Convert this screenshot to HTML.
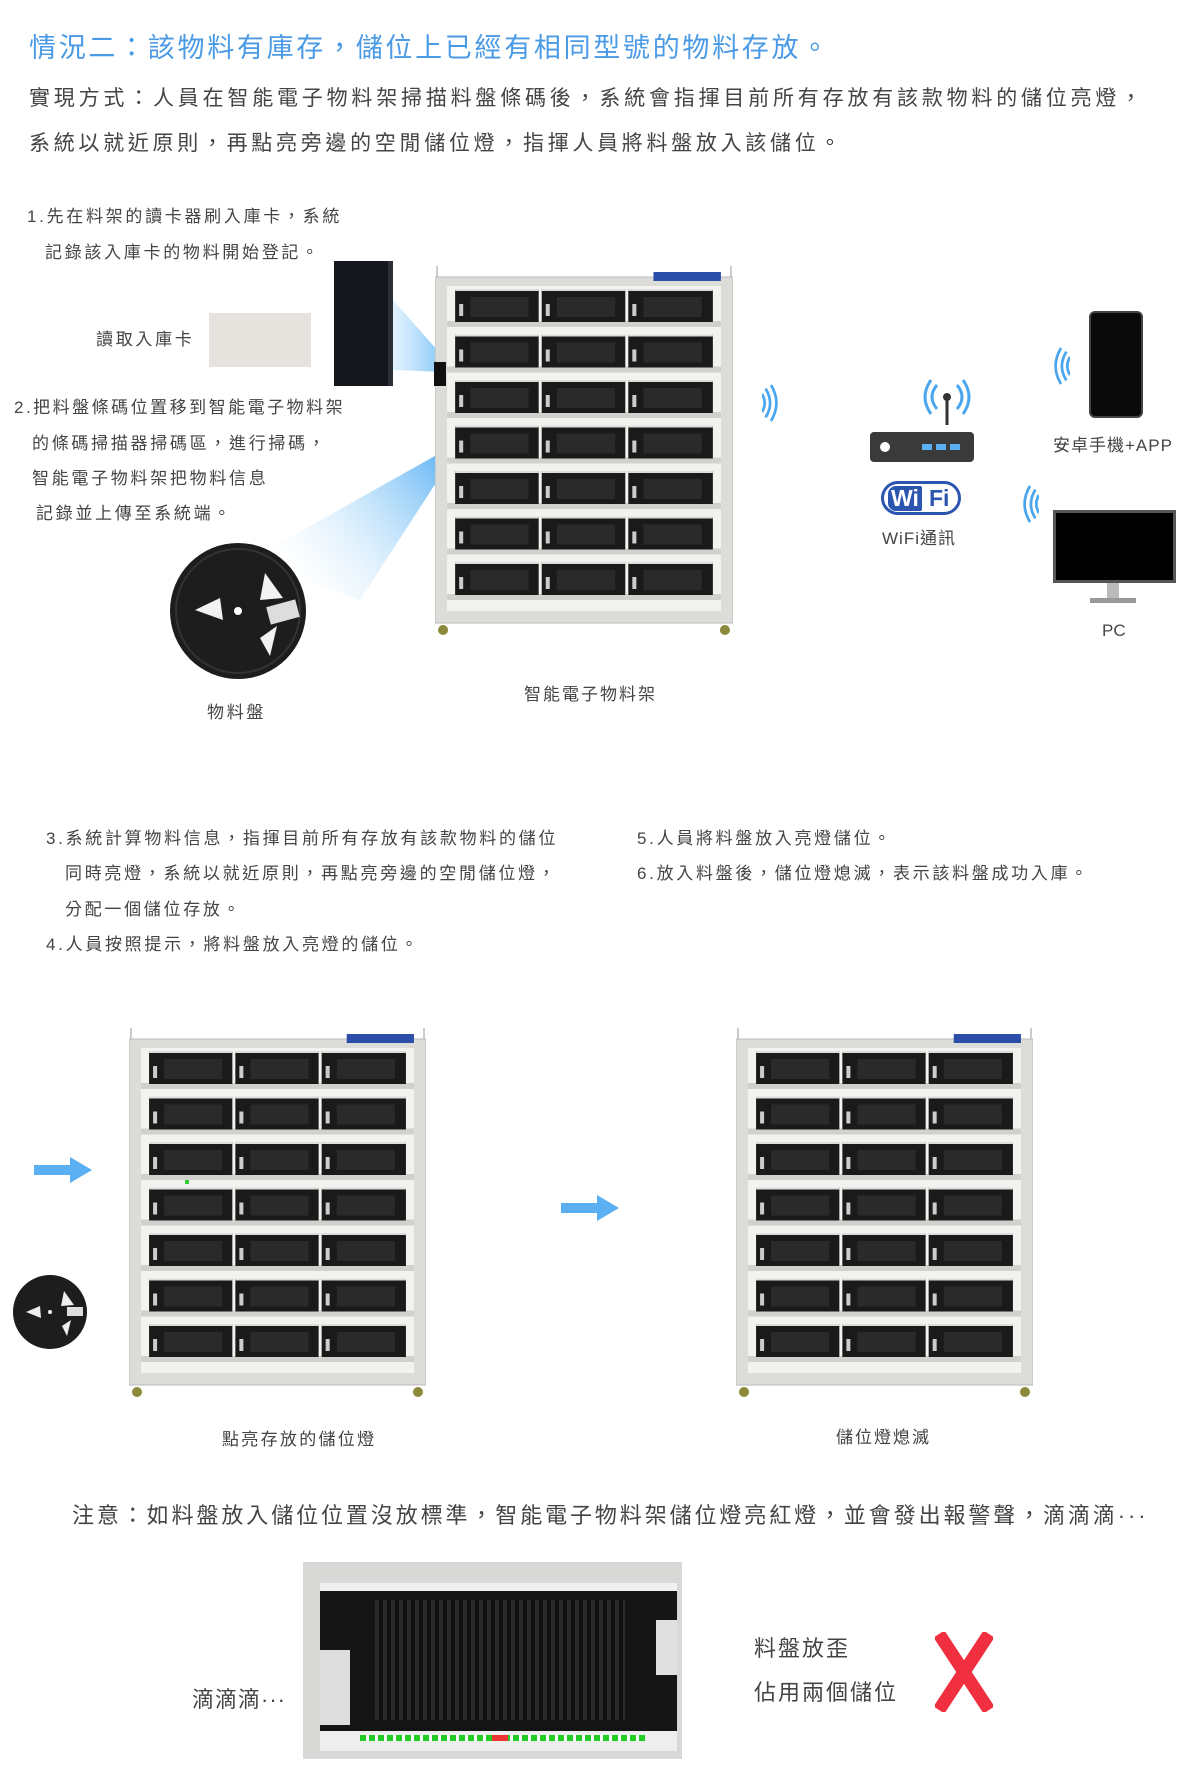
<!DOCTYPE html>
<html><head><meta charset="utf-8">
<style>
*{margin:0;padding:0;box-sizing:border-box}
body{width:1200px;height:1791px;background:#fff;position:relative;overflow:hidden;font-family:"Liberation Sans","Noto Sans CJK TC",sans-serif;color:#444}
.t{position:absolute;white-space:nowrap;line-height:1}
.s{letter-spacing:2.7px}
</style></head><body>
<svg width="0" height="0" style="position:absolute">
<defs>
<symbol id="cab" viewBox="0 0 296 370" preserveAspectRatio="none">
<line x1="2" y1="0" x2="2" y2="12" stroke="#ccc" stroke-width="2"/>
<line x1="294" y1="0" x2="294" y2="12" stroke="#ccc" stroke-width="2"/>
<rect x="0" y="11" width="296" height="346" fill="#dcdcd8" stroke="#bbb"/>
<rect x="12" y="20" width="272" height="325" fill="#f2f2ee"/>
<rect x="217" y="6" width="67" height="9" fill="#2b4fa8"/>
<g id="row">
<rect x="12" y="55" width="272" height="6" fill="#d0d0cc"/>
<rect x="20" y="23" width="83" height="33" fill="#1a1a1a"/>
<rect x="106" y="23" width="83" height="33" fill="#1a1a1a"/>
<rect x="192" y="23" width="84" height="33" fill="#1a1a1a"/>
<rect x="20" y="23" width="83" height="2" fill="#ddd"/>
<rect x="106" y="23" width="83" height="2" fill="#ddd"/>
<rect x="192" y="23" width="84" height="2" fill="#ddd"/>
<rect x="24" y="38" width="4" height="12" fill="#ccc"/>
<rect x="110" y="38" width="4" height="12" fill="#ccc"/>
<rect x="196" y="38" width="4" height="12" fill="#ccc"/>
<rect x="35" y="31" width="58" height="20" fill="#2a2a2a"/>
<rect x="121" y="31" width="58" height="20" fill="#2a2a2a"/>
<rect x="207" y="31" width="58" height="20" fill="#2a2a2a"/>
</g>
<use href="#row" y="45.5"/><use href="#row" y="91"/><use href="#row" y="136.5"/><use href="#row" y="182"/><use href="#row" y="227.5"/><use href="#row" y="273"/>
<circle cx="8" cy="364" r="5" fill="#8a8a3a"/><circle cx="288" cy="364" r="5" fill="#8a8a3a"/>
</symbol>
<linearGradient id="beam1" x1="1" y1="0" x2="0" y2="0"><stop offset="0" stop-color="#5ab4f5"/><stop offset="1" stop-color="#bfe3fb" stop-opacity="0.6"/></linearGradient>
<linearGradient id="beam2" x1="1" y1="0" x2="0" y2="0.6"><stop offset="0" stop-color="#4aaaf2"/><stop offset="1" stop-color="#e6f4fe" stop-opacity="0"/></linearGradient>
<symbol id="waves" viewBox="0 0 20 44"><path d="M4 6 Q14 22 4 38" fill="none" stroke="#4aa6ee" stroke-width="3"/><path d="M10 2 Q22 22 10 42" fill="none" stroke="#4aa6ee" stroke-width="3"/><path d="M0 12 Q6 22 0 32" fill="none" stroke="#4aa6ee" stroke-width="3"/></symbol>
</defs></svg>

<div class="t" style="left:29px;top:35px;font-size:27px;color:#4a9ae6;letter-spacing:2.7px">情況二：該物料有庫存，儲位上已經有相同型號的物料存放。</div>
<div class="t" style="left:29px;top:88px;font-size:21px;color:#444;letter-spacing:3.8px">實現方式：人員在智能電子物料架掃描料盤條碼後，系統會指揮目前所有存放有該款物料的儲位亮燈，</div>
<div class="t" style="left:29px;top:133px;font-size:21px;color:#444;letter-spacing:3.7px">系統以就近原則，再點亮旁邊的空閒儲位燈，指揮人員將料盤放入該儲位。</div>

<div class="t s" style="left:27px;top:208px;font-size:17px">1.先在料架的讀卡器刷入庫卡，系統</div>
<div class="t s" style="left:45px;top:244px;font-size:17px">記錄該入庫卡的物料開始登記。</div>
<div class="t s" style="left:96px;top:331px;font-size:17px">讀取入庫卡</div>
<div style="position:absolute;left:209px;top:313px;width:102px;height:54px;background:#e6e2de"></div>

<svg style="position:absolute;left:0;top:0" width="1200" height="800">
<polygon points="393,300 393,370 446,372 446,360" fill="url(#beam1)" opacity="0.8"/>
<polygon points="456,444 456,452 360,600 250,560" fill="url(#beam2)"/>
</svg>
<div style="position:absolute;left:334px;top:261px;width:59px;height:125px;background:#15171c;border-right:5px solid #2a2e36"></div>
<svg style="position:absolute;left:435px;top:266px" width="298" height="370"><use href="#cab" width="298" height="370"/></svg>
<div style="position:absolute;left:434px;top:362px;width:12px;height:24px;background:#111"></div>

<div class="t" style="left:14px;top:399px;font-size:17px;letter-spacing:2.5px">2.把料盤條碼位置移到智能電子物料架</div>
<div class="t s" style="left:32px;top:435px;font-size:17px">的條碼掃描器掃碼區，進行掃碼，</div>
<div class="t s" style="left:32px;top:470px;font-size:17px">智能電子物料架把物料信息</div>
<div class="t s" style="left:36px;top:505px;font-size:17px">記錄並上傳至系統端。</div>

<svg style="position:absolute;left:165px;top:538px" width="145" height="145">
<circle cx="73" cy="73" r="68" fill="#1d1d1d"/>
<circle cx="73" cy="73" r="62" fill="none" stroke="#333" stroke-width="2"/>
<polygon points="30,72 55,60 58,82" fill="#f2f2f2"/>
<polygon points="100,35 118,60 95,62" fill="#f2f2f2"/>
<polygon points="95,100 112,88 105,118" fill="#f2f2f2"/>
<rect x="103" y="65" width="30" height="18" fill="#ddd" transform="rotate(-15 118 74)"/>
<circle cx="73" cy="73" r="4" fill="#fff"/>
</svg>
<div class="t s" style="left:207px;top:704px;font-size:17px">物料盤</div>
<div class="t" style="left:524px;top:686px;font-size:17px;letter-spacing:2px">智能電子物料架</div>

<svg style="position:absolute;left:762px;top:383px" width="18" height="40"><use href="#waves" width="18" height="40"/></svg>
<svg style="position:absolute;left:922px;top:375px" width="50" height="50">
<g fill="none" stroke="#4aa6ee" stroke-width="3"><path d="M15 10 Q5 22 15 34"/><path d="M9 5 Q-3 22 9 39"/><path d="M35 10 Q45 22 35 34"/><path d="M41 5 Q53 22 41 39"/></g>
<circle cx="25" cy="22" r="4" fill="#333"/><line x1="25" y1="22" x2="25" y2="50" stroke="#333" stroke-width="3"/>
</svg>
<div style="position:absolute;left:870px;top:432px;width:104px;height:30px;background:#3a3a3a;border-radius:4px"></div>
<div style="position:absolute;left:880px;top:442px;width:10px;height:10px;border-radius:50%;background:#fff"></div>
<div style="position:absolute;left:922px;top:444px;width:10px;height:6px;background:#5ab0f0"></div>
<div style="position:absolute;left:936px;top:444px;width:10px;height:6px;background:#5ab0f0"></div>
<div style="position:absolute;left:950px;top:444px;width:10px;height:6px;background:#5ab0f0"></div>
<div style="position:absolute;left:881px;top:481px;width:80px;height:34px;border:3px solid #2c55b0;border-radius:17px;background:#fff"></div>
<div class="t" style="left:888px;top:486px;font-size:23px;font-weight:bold;color:#fff;background:#2c55b0;padding:1px 3px;border-radius:8px 2px 2px 8px">Wi</div>
<div class="t" style="left:926px;top:486px;font-size:23px;font-weight:bold;color:#2c55b0;padding:1px 3px">Fi</div>
<div class="t" style="left:882px;top:530px;font-size:17px;letter-spacing:1px">WiFi通訊</div>

<svg style="position:absolute;left:1052px;top:345px;transform:scaleX(-1)" width="18" height="42"><use href="#waves" width="18" height="42"/></svg>
<div style="position:absolute;left:1089px;top:311px;width:54px;height:107px;background:#0a0a0a;border-radius:6px;border:2px solid #444"></div>
<div class="t" style="left:1053px;top:437px;font-size:17px;letter-spacing:1px">安卓手機+APP</div>
<svg style="position:absolute;left:1021px;top:483px;transform:scaleX(-1)" width="18" height="42"><use href="#waves" width="18" height="42"/></svg>
<div style="position:absolute;left:1053px;top:510px;width:123px;height:73px;background:#000;border:3px solid #555"></div>
<div style="position:absolute;left:1107px;top:583px;width:12px;height:15px;background:#bbb"></div>
<div style="position:absolute;left:1090px;top:598px;width:46px;height:5px;background:#999"></div>
<div class="t" style="left:1102px;top:622px;font-size:17px">PC</div>

<div class="t s" style="left:46px;top:830px;font-size:17px">3.系統計算物料信息，指揮目前所有存放有該款物料的儲位</div>
<div class="t s" style="left:65px;top:865px;font-size:17px">同時亮燈，系統以就近原則，再點亮旁邊的空閒儲位燈，</div>
<div class="t s" style="left:65px;top:901px;font-size:17px">分配一個儲位存放。</div>
<div class="t s" style="left:46px;top:936px;font-size:17px">4.人員按照提示，將料盤放入亮燈的儲位。</div>
<div class="t s" style="left:637px;top:830px;font-size:17px">5.人員將料盤放入亮燈儲位。</div>
<div class="t s" style="left:637px;top:865px;font-size:17px">6.放入料盤後，儲位燈熄滅，表示該料盤成功入庫。</div>

<svg style="position:absolute;left:129px;top:1028px" width="297" height="370"><use href="#cab" width="297" height="370"/></svg>
<div style="position:absolute;left:185px;top:1180px;width:4px;height:4px;background:#3c3"></div>
<svg style="position:absolute;left:736px;top:1028px" width="297" height="370"><use href="#cab" width="297" height="370"/></svg>

<svg style="position:absolute;left:34px;top:1157px" width="60" height="26"><polygon points="0,8 36,8 36,0 58,13 36,26 36,18 0,18" fill="#5ab0f3"/></svg>
<svg style="position:absolute;left:561px;top:1195px" width="60" height="26"><polygon points="0,8 36,8 36,0 58,13 36,26 36,18 0,18" fill="#5ab0f3"/></svg>
<svg style="position:absolute;left:12px;top:1274px" width="76" height="76">
<circle cx="38" cy="38" r="37" fill="#1d1d1d"/>
<polygon points="14,38 28,32 29,44" fill="#eee"/><polygon points="52,17 62,31 49,32" fill="#eee"/><polygon points="50,52 59,46 55,62" fill="#eee"/>
<rect x="55" y="33" width="16" height="9" fill="#ddd"/><circle cx="38" cy="38" r="2" fill="#fff"/>
</svg>
<div class="t" style="left:222px;top:1431px;font-size:17px;letter-spacing:2.3px">點亮存放的儲位燈</div>
<div class="t" style="left:836px;top:1429px;font-size:17px;letter-spacing:2px">儲位燈熄滅</div>

<div class="t" style="left:72px;top:1505px;font-size:22px;letter-spacing:2.9px">注意：如料盤放入儲位位置沒放標準，智能電子物料架儲位燈亮紅燈，並會發出報警聲，滴滴滴···</div>

<div style="position:absolute;left:303px;top:1562px;width:379px;height:197px;background:#d8d8d6"></div>
<div style="position:absolute;left:320px;top:1583px;width:357px;height:8px;background:#f0f0f0"></div>
<div style="position:absolute;left:320px;top:1591px;width:357px;height:140px;background:#151515"></div>
<div style="position:absolute;left:375px;top:1600px;width:250px;height:120px;background:repeating-linear-gradient(90deg,#2a2a2a 0 4px,#111 4px 8px)"></div>
<div style="position:absolute;left:320px;top:1650px;width:30px;height:75px;background:#ddd"></div>
<div style="position:absolute;left:656px;top:1620px;width:21px;height:55px;background:#e0e0e0"></div>
<div style="position:absolute;left:320px;top:1731px;width:357px;height:20px;background:#eee"></div>
<div style="position:absolute;left:360px;top:1735px;width:285px;height:6px;background:repeating-linear-gradient(90deg,#2c2 0 6px,#fff 6px 9px)"></div>
<div style="position:absolute;left:492px;top:1735px;width:16px;height:6px;background:#e33"></div>
<div class="t" style="left:192px;top:1689px;font-size:22px;letter-spacing:1px">滴滴滴···</div>
<div class="t" style="left:754px;top:1638px;font-size:22px;letter-spacing:2px">料盤放歪</div>
<div class="t" style="left:754px;top:1682px;font-size:22px;letter-spacing:2px">佔用兩個儲位</div>
<svg style="position:absolute;left:935px;top:1632px" width="58" height="80"><path d="M4 2 L54 78 M54 2 L4 78" stroke="#f03040" stroke-width="13"/></svg>
</body></html>
